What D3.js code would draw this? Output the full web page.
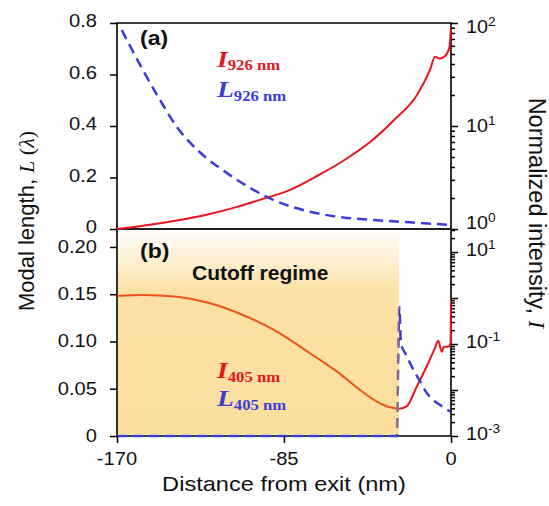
<!DOCTYPE html>
<html>
<head>
<meta charset="utf-8">
<script src="https://cdn.jsdelivr.net/npm/d3@7"></script>
<style>
  body { margin: 0; background: #fff; }
  svg { display: block; }
</style>
</head>
<body>
<div id="chart"></div>
<script>
const width = 549, height = 506;

// panel (a), 926 nm : intensity (right, log) and modal length (left)
const xI926 = [-170, -156.8, -139.5, -122.7, -108.9, -95.7, -83.5, -68.2, -55, -41.2, -29.5, -17.3, -10.7, -8.1, -5.9, -3.0, -0.9, 0];
const I926 = [1, 1.075, 1.21, 1.40, 1.64, 1.96, 2.33, 3.27, 4.57, 6.98, 11.2, 20, 35, 47, 45.2, 47.8, 56.8, 92];
const xL926 = [-167.6, -156.8, -148.1, -139.5, -127.8, -114, -100.8, -88.6, -71.8, -55, -37.7, -20.9, -0.5];
const L926 = [0.773, 0.617, 0.501, 0.396, 0.298, 0.217, 0.153, 0.107, 0.067, 0.045, 0.034, 0.026, 0.0155];

// panel (b), 405 nm
const xI405 = [-170, -156.8, -139.5, -122.7, -105.9, -88.6, -71.8, -58, -46.3, -37.7, -31, -26.5, -22.5, -17.5, -12.4, -8.2, -6.5, -4.7, -3.6, -1.4, -0.2, 0];
const I405 = [1.10, 1.16, 1.07, 0.766, 0.427, 0.186, 0.063, 0.0251, 0.010, 0.0056, 0.0042, 0.0039, 0.00447, 0.0117, 0.0324, 0.0813, 0.117, 0.0676, 0.087, 0.087, 0.105, 0.91];
const xL405 = [-170, -27.6, -26.3, -25.5, -22.9, -19.1, -15.7, -12.3, -9.0, -5.6, -0.5];
const L405 = [0, 0, 0.1365, 0.0983, 0.086, 0.070, 0.0577, 0.0454, 0.0381, 0.0328, 0.0259];
const cutoffEnd = -26.5;

const xTicks = [-170, -85, 0];
const ticksLA = [0, 0.2, 0.4, 0.6, 0.8];
const ticksLB = [0, 0.05, 0.10, 0.15, 0.20];
const expA = [0, 1, 2];
const expB = [-3, -1, 1];

const RED = '#e8141e', BLUE = '#3c3cdc';
const SANS = '"Liberation Sans", Arial, sans-serif';
const SERIF = '"Liberation Serif", "Times New Roman", serif';

const x = d3.scaleLinear().domain([-170, 0]).range([117, 451]);
const yLA = d3.scaleLinear().domain([0, 0.8]).range([229, 23]);
const yRA = d3.scaleLog().domain([1, 100]).range([229, 23]);
const yLB = d3.scaleLinear().domain([0, 0.219]).range([436, 229]);
const yRB = d3.scaleLog().domain([1e-3, Math.pow(10, 1.5)]).range([436, 229]);

const svg = d3.select('#chart').append('svg')
    .attr('width', width)
    .attr('height', height);

svg.append('rect').attr('width', width).attr('height', height).attr('fill', '#fff');

// gradient for cutoff regime
const grad = svg.append('defs').append('linearGradient')
    .attr('id', 'cutoff').attr('x1', 0).attr('x2', 0).attr('y1', 0).attr('y2', 1);
grad.append('stop').attr('offset', '0%').attr('stop-color', '#f6b41e').attr('stop-opacity', 0.02);
grad.append('stop').attr('offset', '30%').attr('stop-color', '#f6b41e').attr('stop-opacity', 0.40);
grad.append('stop').attr('offset', '100%').attr('stop-color', '#f6b41e').attr('stop-opacity', 0.43);

// frame
const frame = svg.append('g').attr('stroke', '#000').attr('stroke-width', 1.6).attr('fill', 'none');
frame.append('path').attr('d', `M${x(-170)},${yLA(0.8)} H${x(0)} V${yLB(0)} H${x(-170)} Z`);
frame.append('line').attr('x1', x(-170)).attr('x2', x(0)).attr('y1', 229).attr('y2', 229)
    .attr('stroke', '#222').attr('stroke-width', 1.8);

// curves
const line = (xs, ys, sy) => d3.line()
    .x(d => x(d[0])).y(d => sy(d[1]))
    .curve(d3.curveMonotoneX)(d3.zip(xs, ys));

svg.append('path').attr('d', line(xI926, I926, yRA))
    .attr('fill', 'none').attr('stroke', RED).attr('stroke-width', 2);
svg.append('path').attr('d', line(xL926, L926, yLA))
    .attr('fill', 'none').attr('stroke', BLUE).attr('stroke-width', 2.5).attr('stroke-dasharray', '10,6');
svg.append('path').attr('d', line(xI405, I405, yRB))
    .attr('fill', 'none').attr('stroke', RED).attr('stroke-width', 2);
svg.append('path').attr('d', line(xL405, L405, yLB))
    .attr('fill', 'none').attr('stroke', BLUE).attr('stroke-width', 2.5).attr('stroke-dasharray', '10,6');

// cutoff regime overlay
svg.append('rect')
    .attr('x', x(-170) + 1).attr('y', 230)
    .attr('width', x(cutoffEnd) - x(-170) - 1).attr('height', 434.5 - 230)
    .attr('fill', 'url(#cutoff)');

// ticks
function ticks(axis, tx, vals, size) {
    const g = svg.append('g').attr('transform', tx)
        .call(axis.tickValues(vals).tickSize(size).tickFormat(''));
    g.select('.domain').remove();
    g.selectAll('line').attr('stroke', '#000').attr('stroke-width', 1.5);
}
function minors(e0, e1, max) {
    const out = [];
    for (let e = e0; e <= e1; e++) for (let k = 2; k <= 9; k++) {
        const v = k * Math.pow(10, e);
        if (v <= max) out.push(v);
    }
    return out;
}
ticks(d3.axisLeft(yLA), `translate(${x(-170)},0)`, ticksLA, 7);
ticks(d3.axisLeft(yLB), `translate(${x(-170)},0)`, ticksLB, 7);
ticks(d3.axisBottom(x), `translate(0,${yLB(0)})`, xTicks, 7);
ticks(d3.axisRight(yRA), `translate(${x(0)},0)`, [1, 10, 100], 7);
ticks(d3.axisRight(yRA), `translate(${x(0)},0)`, minors(0, 1, 100), 4);
ticks(d3.axisRight(yRB), `translate(${x(0)},0)`, [1e-3, 1e-2, 1e-1, 1, 10], 7);
ticks(d3.axisRight(yRB), `translate(${x(0)},0)`, minors(-3, 1, Math.pow(10, 1.5)), 4);

// text helper, with slight horizontal stretch like the source image
function txt(px, py, sx, size, anchor) {
    return svg.append('text')
        .attr('transform', `translate(${px},${py}) scale(${sx},1)`)
        .attr('font-family', SANS).attr('font-size', size)
        .attr('text-anchor', anchor || 'start').attr('fill', '#111');
}

ticksLA.forEach(v => txt(97, yLA(v) + 4, 1.12, 18, 'end').text(v === 0 ? '0' : d3.format('.1f')(v)));
ticksLB.forEach(v => txt(97, yLB(v) + 6, 1.12, 18, 'end').text(v === 0 ? '0' : d3.format('.2f')(v)));
xTicks.forEach(v => txt(x(v), 465, 1.12, 18, 'middle').text(String(v)));

function powLabel(py, e) {
    const t = txt(466, py, 1.1, 18);
    t.append('tspan').text('10');
    t.append('tspan').attr('dy', -7).attr('font-size', 12.5).text(String(e));
}
expA.forEach(e => powLabel(yRA(Math.pow(10, e)) + (e === 2 ? 10 : e === 0 ? 0 : 6), e));
expB.forEach(e => powLabel(yRB(Math.pow(10, e)) + 4, e));

// axis titles
txt(284, 491, 1.18, 20, 'middle').text('Distance from exit (nm)');

const lt = svg.append('text')
    .attr('transform', 'translate(34,221) rotate(-90)')
    .attr('font-family', SANS).attr('font-size', 22).attr('text-anchor', 'middle').attr('fill', '#111');
lt.append('tspan').text('Modal length, ');
lt.append('tspan').attr('font-family', SERIF).attr('font-style', 'italic').text('L');
lt.append('tspan').attr('font-family', SERIF).text(' (');
lt.append('tspan').attr('font-family', SERIF).attr('font-style', 'italic').text('λ');
lt.append('tspan').attr('font-family', SERIF).text(')');

const rt = svg.append('text')
    .attr('transform', 'translate(529,213) rotate(90)')
    .attr('font-family', SANS).attr('font-size', 23.5).attr('text-anchor', 'middle').attr('fill', '#111');
rt.append('tspan').text('Normalized intensity, ');
rt.append('tspan').attr('font-family', SERIF).attr('font-style', 'italic').text('I');

// panel labels
txt(140, 45, 1.1, 21).attr('font-weight', 'bold').text('(a)');
txt(140, 258, 1.1, 21).attr('font-weight', 'bold').text('(b)');
txt(192, 280, 1.05, 20).attr('font-weight', 'bold').text('Cutoff regime');

// legend labels
function legend(px, py, sym, sub, color) {
    const t = svg.append('text')
        .attr('transform', `translate(${px},${py}) scale(1.15,1)`)
        .attr('font-family', SERIF).attr('font-weight', 'bold').attr('fill', color);
    t.append('tspan').attr('font-size', 24).attr('font-style', 'italic').text(sym);
    t.append('tspan').attr('font-size', 14.5).attr('dy', 3.5).text(sub);
}
legend(217, 66.5, 'I', '926 nm', RED);
legend(217, 97, 'L', '926 nm', BLUE);
legend(217, 378, 'I', '405 nm', RED);
legend(217, 406, 'L', '405 nm', BLUE);
</script>
</body>
</html>
